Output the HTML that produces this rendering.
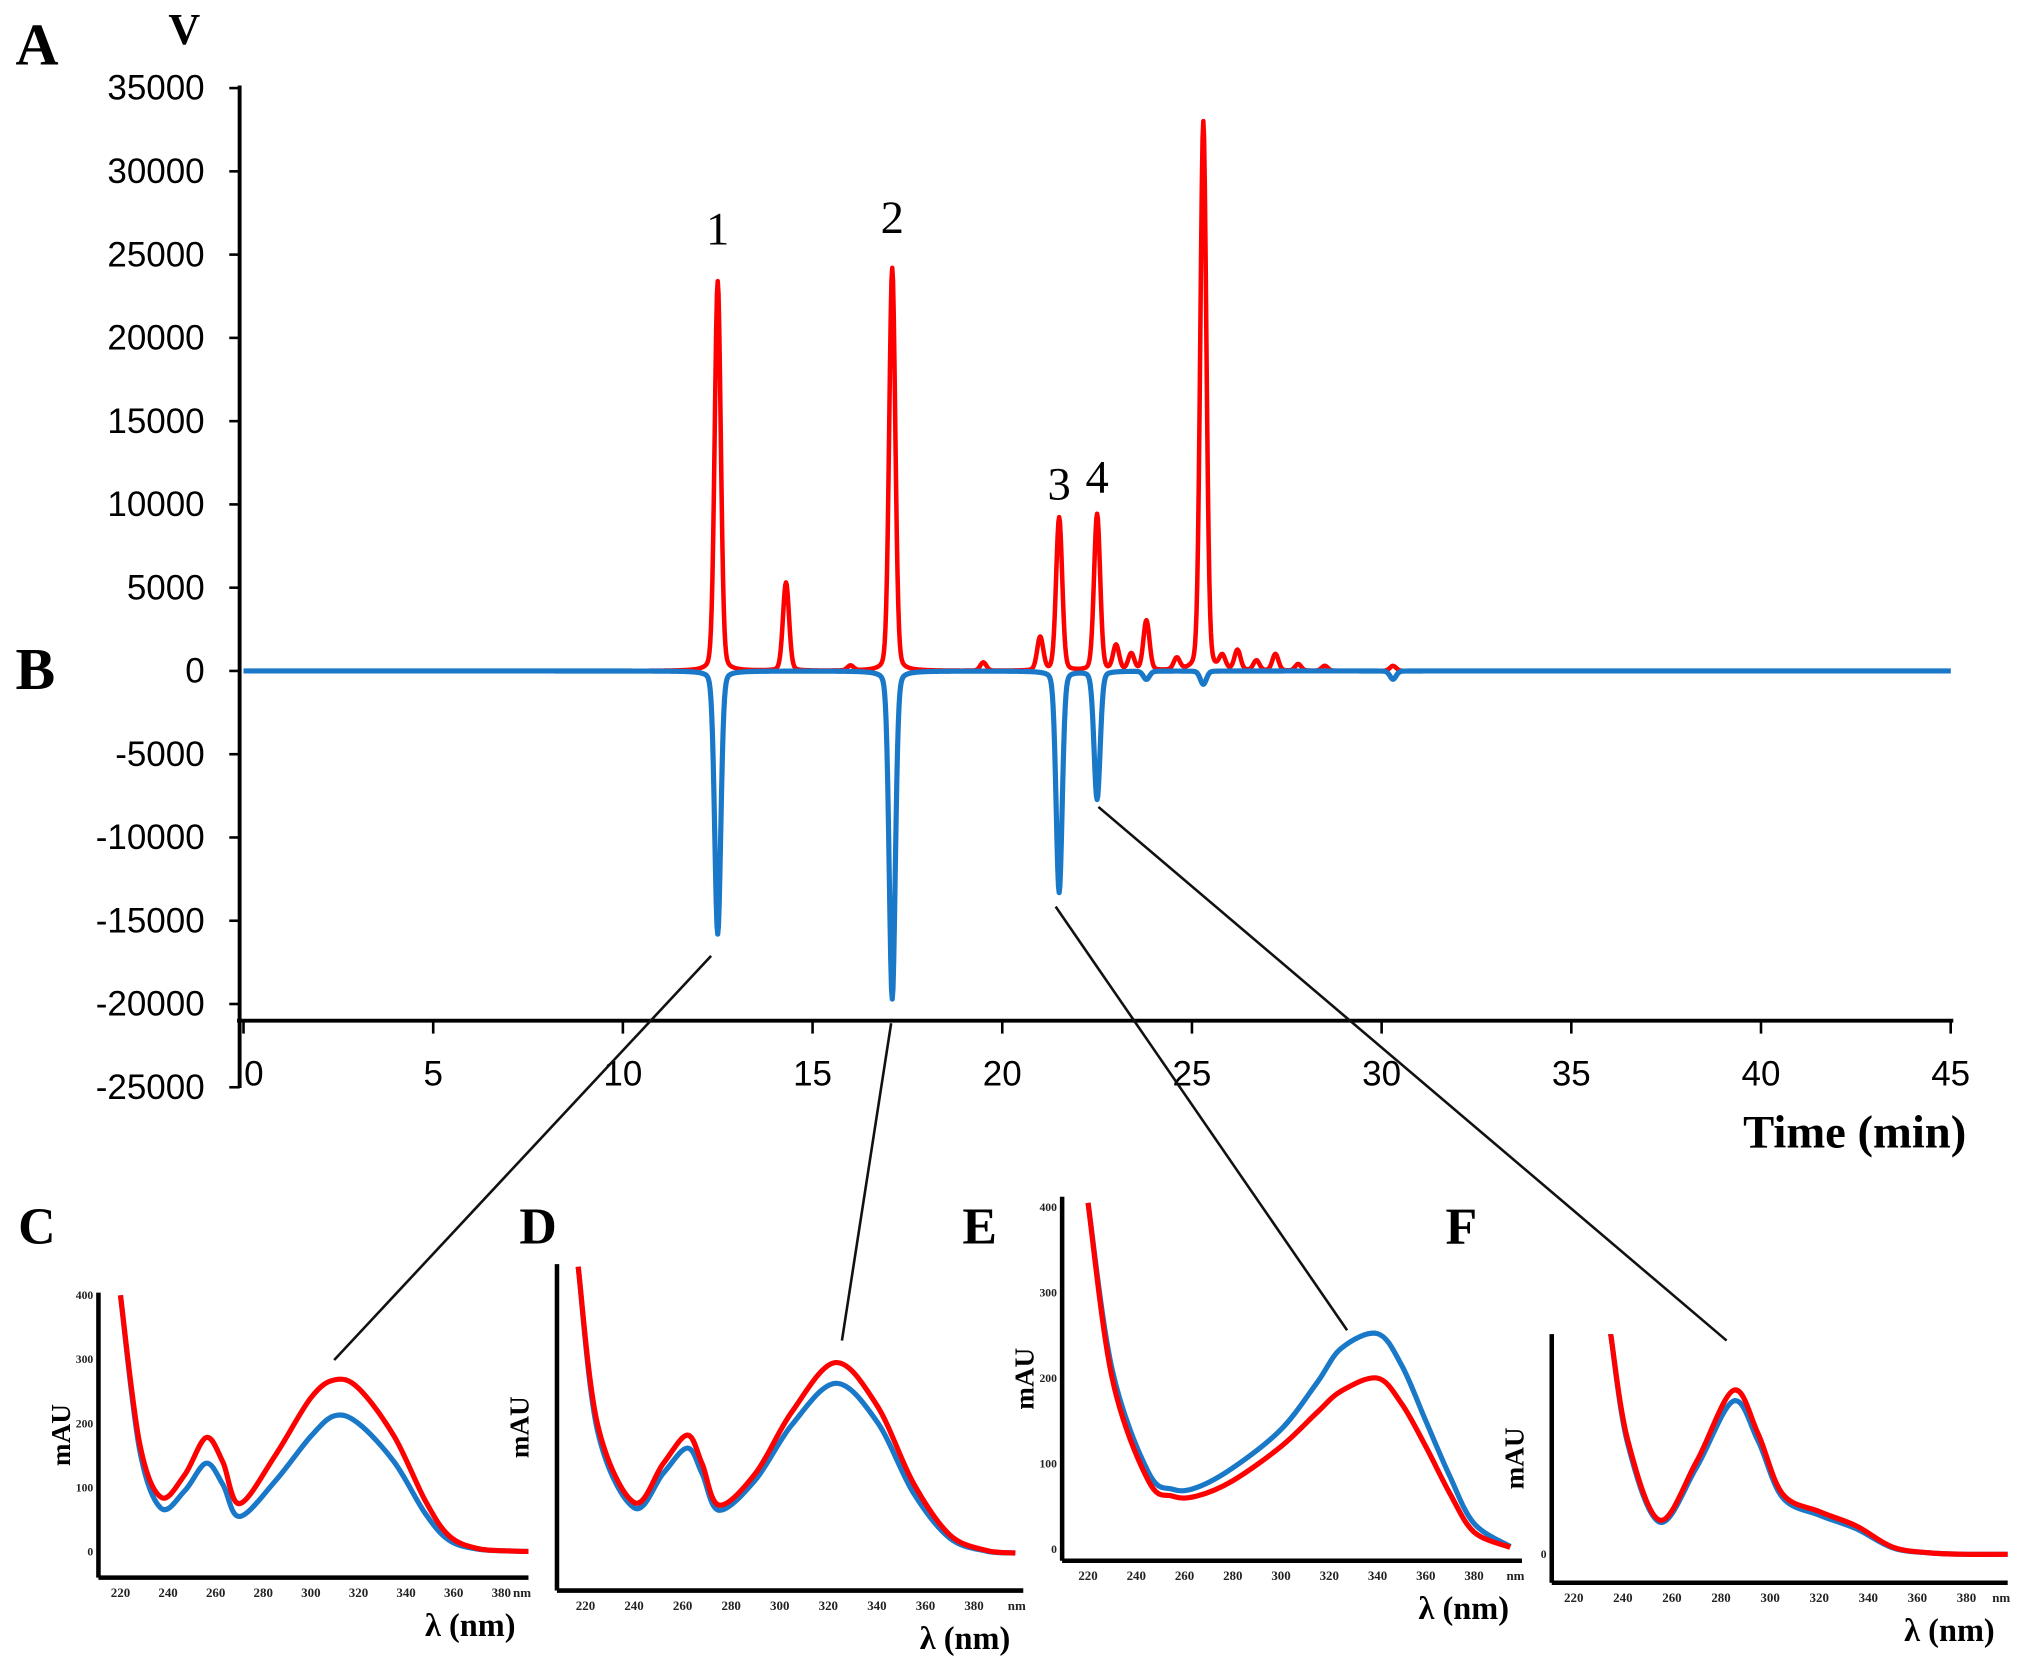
<!DOCTYPE html>
<html><head><meta charset="utf-8"><style>
html,body{margin:0;padding:0;background:#fff}
svg{display:block}
text{font-family:"Liberation Sans",sans-serif}
.serif{font-family:"Liberation Serif",serif}
</style></head><body>
<svg id="fig" width="2031" height="1657" viewBox="0 0 1568 1279.3" preserveAspectRatio="none" xmlns="http://www.w3.org/2000/svg">
<g id="main"></g>
<g id="spec"></g>
<g id="conn"></g>
</svg>
<script>
// ---- chromatogram data ----
const xTicks = [0,5,10,15,20,25,30,35,40,45];
const yTicks = [35000,30000,25000,20000,15000,10000,5000,0,-5000,-10000,-15000,-20000,-25000];
const redTimes   = [12.5,14.3,16.0,17.1,19.5,21.0,21.5,22.5,23.0,23.4,23.8,24.6,25.3,25.8,26.2,26.7,27.2,27.8,28.5,30.3];
const redHeights = [23400,5300,300,24200,500,2000,9200,9400,1500,1000,3000,700,33000,800,1200,600,1000,400,300,300];
const blueTimes   = [12.5,17.1,21.5,22.5,23.8,25.3,30.3];
const blueHeights = [-15800,-19700,-13300,-7700,-500,-800,-500];
const peakLabels = ["1","2","3","4"];
const peakLabelTimes = [12.5,17.1,21.5,22.5];
const peakLabelValues = [25600,26300,10300,10700];

const NS="http://www.w3.org/2000/svg";
function mk(tag,attrs,parent){const e=document.createElementNS(NS,tag);for(const k in attrs)e.setAttribute(k,attrs[k]);parent.appendChild(e);return e;}
const main=document.getElementById('main');
const X0=188,X1=1506,Y35=68,Y0=518;
const xs=t=>X0+(X1-X0)*t/45;
const ys=v=>Y0-(Y0-Y35)*v/35000;

let ax=mk('line',{x1:185,y1:66,x2:185,y2:840,stroke:'#000','stroke-width':3},main);

let xa=mk('line',{x1:183,y1:788,x2:1508,y2:788,stroke:'#000','stroke-width':3},main);

yTicks.forEach(v=>{
  const t=mk('line',{x1:177,x2:185,y1:ys(v),y2:ys(v),stroke:'#000','stroke-width':2},main);
  
  const l=mk('text',{x:158,y:ys(v)+9,'text-anchor':'end','font-size':27},main);l.textContent=v;
  
});
xTicks.forEach(v=>{
  const t=mk('line',{x1:xs(v),x2:xs(v),y1:788,y2:798,stroke:'#000','stroke-width':2},main);
  
  const l=mk('text',{x:xs(v)+(v===0?8:0),y:838,'text-anchor':'middle','font-size':27},main);l.textContent=v;
  
});
function label(txt,x,y,size,name,bold,anchor){const l=mk('text',{x:x,y:y,'font-size':size,'class':'serif','font-weight':bold?'bold':'normal','text-anchor':anchor||'start'},main);l.textContent=txt;return l;}
label('A',12,50,46,'panel-label-a',true);
label('V',130,34,34,'y-axis-unit',true);
label('B',12,532,46,'panel-label-b',true);
label('Time (min)',1518,886,36,'x-axis-title',true,'end');
peakLabels.forEach((p,i)=>label(p,xs(peakLabelTimes[i]),ys(peakLabelValues[i]),36,'peak-label-'+p,false,'middle'));

function trace(times,heights,sig){
  let d='';
  for(let t=0;t<=45.0001;t+=0.02){
    let v=0;for(let i=0;i<times.length;i++){const z=(t-times[i])/sig;v+=heights[i]*(0.85*Math.exp(-0.5*z*z)+0.15/(1+z*z*0.6));}
    d+=(d?'L':'M')+xs(t).toFixed(2)+','+ys(v).toFixed(2);
  }
  return d;
}
const red=mk('path',{d:trace(redTimes,redHeights,0.08),fill:'none',stroke:'#ff0000','stroke-width':3.5,'stroke-linejoin':'round'},main);

const blue=mk('path',{d:trace(blueTimes,blueHeights,0.08),fill:'none',stroke:'#1a78c8','stroke-width':4,'stroke-linejoin':'round'},main);


// ---- spectra data ----
const specTicks=[220,240,260,280,300,320,340,360,380];
const cWl=[220,228,237,247,256,263,270,285,300,310,320,335,348,358,370,385,400];
const cRed=[400,170,85,120,178,140,75,150,240,268,255,180,80,25,5,1,0];
const cBlue=[400,160,68,95,138,105,55,110,180,212,200,140,60,18,4,1,0];
const dWl=[217,225,240,252,262,268,275,290,305,323,340,355,370,385,397];
const dRed=[444,200,80,140,184,140,76,125,220,296,230,110,30,6,2];
const dBlue=[444,190,72,125,164,125,68,115,200,264,205,95,25,5,2];
const eWl=[220,230,245,255,265,280,300,315,325,340,350,360,370,380,395];
const eRed=[405,200,80,62,62,80,120,160,185,200,170,120,65,20,2];
const eBlue=[405,210,90,70,72,95,140,195,235,252,215,150,85,30,3];
const fWl=[235,242,255,270,285,295,305,320,335,350,365,380,400];
const fRed=[310,160,48,130,230,170,85,60,40,10,2,0,0];
const fBlue=[310,155,45,122,215,160,80,55,36,9,2,0,0];

const spec=document.getElementById('spec');
function smooth(pts){
  let d='M'+pts[0][0].toFixed(2)+','+pts[0][1].toFixed(2);
  for(let i=0;i<pts.length-1;i++){
    const p0=pts[Math.max(0,i-1)],p1=pts[i],p2=pts[i+1],p3=pts[Math.min(pts.length-1,i+2)];
    const c1=[p1[0]+(p2[0]-p0[0])/6,p1[1]+(p2[1]-p0[1])/6];
    const c2=[p2[0]-(p3[0]-p1[0])/6,p2[1]-(p3[1]-p1[1])/6];
    d+='C'+c1[0].toFixed(2)+','+c1[1].toFixed(2)+' '+c2[0].toFixed(2)+','+c2[1].toFixed(2)+' '+p2[0].toFixed(2)+','+p2[1].toFixed(2);
  }
  return d;
}
function panel(o){
  const g=mk('g',{},spec);
  
  const sx=w=>o.x220+(w-220)*o.px20/20;
  const sy=v=>o.y0-v*o.px100/100;
  let a=mk('line',{x1:o.ax,y1:o.top,x2:o.ax,y2:o.bot,stroke:'#000','stroke-width':3.5},g);
  
  a=mk('line',{x1:o.ax,y1:o.bot,x2:o.right,y2:o.bot,stroke:'#000','stroke-width':3.5},g);
  
  specTicks.forEach(w=>{const t=mk('text',{x:sx(w),y:o.bot+15,'font-size':10,'font-weight':'bold','class':'serif','text-anchor':'middle',fill:'#222'},g);t.textContent=w;
    });
  const nm=mk('text',{x:o.right-5,y:o.bot+15,'font-size':10,'font-weight':'bold','class':'serif','text-anchor':'middle',fill:'#222'},g);nm.textContent='nm';
  
  o.yl.forEach(v=>{const t=mk('text',{x:o.ax-4,y:sy(v)+3,'font-size':9,'font-weight':'bold','class':'serif','text-anchor':'end',fill:'#222'},g);t.textContent=v;
    });
  const L=mk('text',{x:o.lx,y:o.ly,'font-size':40,'font-weight':'bold','class':'serif'},g);L.textContent=o.id;
  
  const m=mk('text',{transform:`translate(${o.ax-22},${(o.top+o.bot)/2}) rotate(-90)`,'font-size':21,'font-weight':'bold','class':'serif','text-anchor':'middle'},g);m.textContent='mAU';
  
  const t=mk('text',{x:o.right-10,y:o.bot+45,'font-size':25,'font-weight':'bold','class':'serif','text-anchor':'end'},g);t.textContent='λ (nm)';
  
  const cp=mk('clipPath',{id:'cp'+o.id},g);mk('rect',{x:o.ax,y:o.top,width:o.right-o.ax,height:o.bot-o.top},cp);
  const b=mk('path',{d:smooth(o.wl.map((w,i)=>[sx(w),sy(o.blue[i])])),fill:'none',stroke:'#1a78c8','stroke-width':4,'clip-path':`url(#cp${o.id})`},g);
  
  const r=mk('path',{d:smooth(o.wl.map((w,i)=>[sx(w),sy(o.red[i])])),fill:'none',stroke:'#ff0000','stroke-width':4,'clip-path':`url(#cp${o.id})`},g);
  
}
panel({id:'C',ax:76,top:998,bot:1218,right:408,x220:93,px20:36.75,y0:1198,px100:49.5,yl:[0,100,200,300,400],lx:14,ly:960,wl:cWl,red:cRed,blue:cBlue});
panel({id:'D',ax:430,top:976,bot:1228,right:790,x220:452,px20:37.5,y0:1200,px100:50,yl:[],lx:401,ly:960,wl:dWl,red:dRed,blue:dBlue});
panel({id:'E',ax:820,top:924,bot:1205,right:1175,x220:840,px20:37.25,y0:1196,px100:66,yl:[0,100,200,300,400],lx:743,ly:960,wl:eWl,red:eRed,blue:eBlue});
panel({id:'F',ax:1198,top:1030,bot:1222,right:1550,x220:1215,px20:37.9,y0:1200,px100:55,yl:[0],lx:1116,ly:960,wl:fWl,red:fRed,blue:fBlue});

const conn=document.getElementById('conn');
[[549,738,258,1050],[688,790,650,1035],[815,700,1040,1027],[848,623,1333,1035]].forEach((c,i)=>{
  const l=mk('line',{x1:c[0],y1:c[1],x2:c[2],y2:c[3],stroke:'#111','stroke-width':2},conn);
  
});
</script>
</body></html>
